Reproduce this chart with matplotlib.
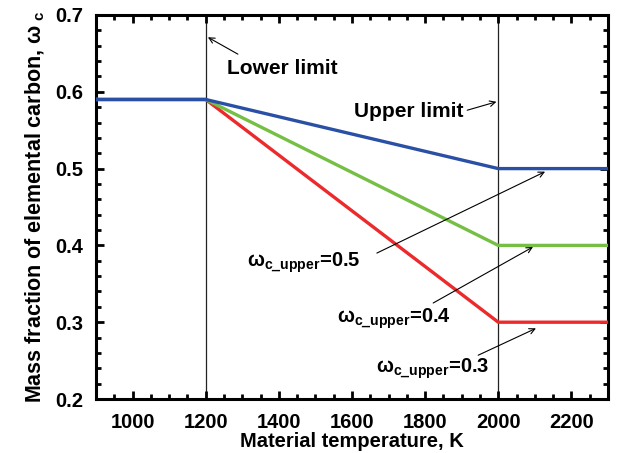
import matplotlib
matplotlib.use("Agg")
import matplotlib.pyplot as plt
from matplotlib.ticker import MultipleLocator

plt.rcParams['font.family'] = ['Liberation Sans', 'DejaVu Sans']
plt.rcParams['font.weight'] = 'bold'
plt.rcParams['mathtext.fontset'] = 'custom'
plt.rcParams['mathtext.rm'] = 'Liberation Sans:bold'
plt.rcParams['mathtext.it'] = 'Liberation Sans:bold'
plt.rcParams['mathtext.bf'] = 'Liberation Sans:bold'

# temperature breakpoints (K) and carbon fraction for each upper-limit case
temperature = [900, 1200, 2000, 2300]
omega_05 = [0.59, 0.59, 0.50, 0.50]
omega_04 = [0.59, 0.59, 0.40, 0.40]
omega_03 = [0.59, 0.59, 0.30, 0.30]
limits = [1200, 2000]
case_labels = ['0.5', '0.4', '0.3']

fig = plt.figure(figsize=(6.17, 4.53), dpi=100)
ax = fig.add_axes([0.1556, 0.1192, 0.8298, 0.8477])

for t in limits:
    ax.axvline(t, color='#222222', lw=0.9, zorder=1)

ax.plot(temperature, omega_03, color='#ec2a2c', lw=2.4, zorder=3)
ax.plot(temperature, omega_04, color='#76bf45', lw=2.4, zorder=3)
ax.plot(temperature, omega_05, color='#2a50a6', lw=2.4, zorder=4)

ax.set_xlim(900, 2300)
ax.set_ylim(0.2, 0.7)
ax.xaxis.set_major_locator(MultipleLocator(200))
ax.xaxis.set_minor_locator(MultipleLocator(50))
ax.yaxis.set_major_locator(MultipleLocator(0.1))
ax.yaxis.set_minor_locator(MultipleLocator(0.02))
ax.tick_params(which='both', direction='in', top=True, right=True, width=2)
ax.tick_params(which='major', length=6, labelsize=14.5)
ax.tick_params(which='minor', length=3.5)
ax.tick_params(axis='x', which='major', pad=10)
ax.tick_params(axis='y', which='major', pad=9)
for s in ax.spines.values():
    s.set_linewidth(2.2)

ax.set_xlabel('Material temperature, K', fontsize=14.5, fontweight='bold', labelpad=0)
ax.set_ylabel(r'Mass fraction of elemental carbon, $\omega_{\ \mathrm{c}}$',
              fontsize=15.5, fontweight='bold', labelpad=6)

arrow = dict(arrowstyle='->', lw=0.8, color='black', shrinkA=0, shrinkB=0)

ax.text(1258, 0.630, 'Lower limit', fontsize=15, fontweight='bold', va='center')
ax.annotate('', xy=(1206, 0.671), xytext=(1288, 0.649), arrowprops=arrow)

ax.text(1605, 0.574, 'Upper limit', fontsize=15, fontweight='bold', va='center')
ax.annotate('', xy=(1995, 0.587), xytext=(1915, 0.576), arrowprops=arrow)

text_pos = [(1313, 0.372), (1559, 0.299), (1666, 0.234)]
arrow_tail = [(1668, 0.390), (1822, 0.325), (1945, 0.257)]
arrow_head = [(2128, 0.496), (2095, 0.398), (2103, 0.292)]
for lab, tp, tail, head in zip(case_labels, text_pos, arrow_tail, arrow_head):
    ax.text(tp[0], tp[1], r'$\omega_{\mathrm{c\_upper}}$=' + lab,
            fontsize=14.5, fontweight='bold', va='baseline')
    ax.annotate('', xy=head, xytext=tail, arrowprops=arrow)

fig.savefig('out.png', dpi=100)
